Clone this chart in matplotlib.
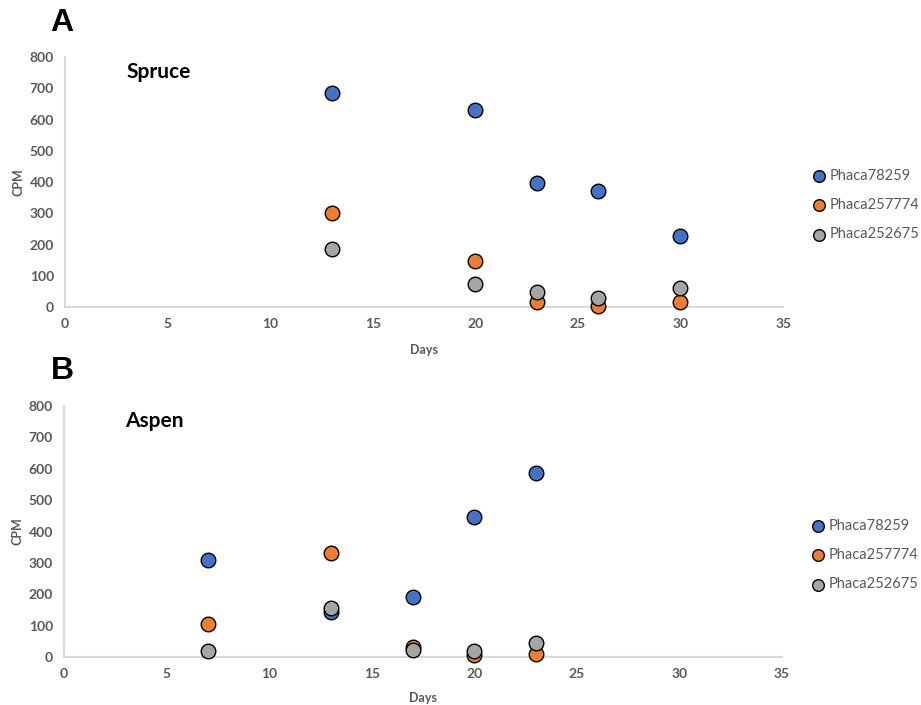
import matplotlib
matplotlib.use('Agg')
import matplotlib.pyplot as plt

# data
series_names = ['Phaca78259', 'Phaca257774', 'Phaca252675']
series_colors = ['#4472C4', '#ED7D31', '#A5A5A5']

spruce_days = [13, 20, 23, 26, 30]
spruce_78259 = [685, 630, 397, 371, 228]
spruce_257774 = [301, 148, 17, 3, 16]
spruce_252675 = [186, 74, 48, 29, 61]

aspen_days = [7, 13, 17, 20, 23]
aspen_78259 = [309, 143, 191, 446, 586]
aspen_257774 = [106, 331, 32, 6, 10]
aspen_252675 = [20, 156, 22, 20, 45]

x_ticks = [0, 5, 10, 15, 20, 25, 30, 35]
y_ticks = [0, 100, 200, 300, 400, 500, 600, 700, 800]

plt.rcParams['font.family'] = ['Lato', 'DejaVu Sans']
tick_color = '#595959'

fig = plt.figure(figsize=(9.21, 7.05), dpi=100)


def draw_panel(rect, days, values, title, letter, letter_y, leg_y, days_y):
    ax = fig.add_axes(rect)
    for vals, name, col in zip(values, series_names, series_colors):
        ax.scatter(days, vals, s=110, color=col, edgecolor='black',
                   linewidth=1.0, label=name, zorder=3, clip_on=False)
    ax.set_xlim(0, 35)
    ax.set_ylim(0, 800)
    ax.set_xticks(x_ticks)
    ax.set_yticks(y_ticks)
    ax.tick_params(length=0, labelsize=10, labelcolor=tick_color, pad=8)
    for lab in ax.get_xticklabels() + ax.get_yticklabels():
        lab.set_fontweight('bold')
    for side in ['top', 'right']:
        ax.spines[side].set_visible(False)
    for side in ['left', 'bottom']:
        ax.spines[side].set_color('#d9d9d9')
        ax.spines[side].set_linewidth(1.5)
    ax.set_xlabel('Days', fontsize=9, fontweight='bold', color=tick_color,
                  va='center')
    ax.xaxis.set_label_coords(0.50, days_y)
    ax.set_ylabel('CPM', fontsize=9, fontweight='bold', color=tick_color)
    ax.yaxis.set_label_coords(-0.056, 0.5)
    ax.text(0.085, 0.94, title, transform=ax.transAxes, fontsize=15,
            fontweight='bold', color='black', va='center')
    fig.text(0.055, letter_y, letter, fontsize=23, fontweight='bold',
             family=['Liberation Sans', 'DejaVu Sans'], va='center')
    leg = ax.legend(loc='center left', bbox_to_anchor=(1.03, leg_y),
                    frameon=False, fontsize=10.5, handletextpad=0.2,
                    labelspacing=1.05, borderpad=0, handlelength=1.0,
                    markerscale=0.8)
    for t in leg.get_texts():
        t.set_color(tick_color)
    return ax


draw_panel([0.0706, 0.5645, 0.7796, 0.3546], spruce_days,
           [spruce_78259, spruce_257774, spruce_252675], 'Spruce', 'A', 0.968,
           0.408, -0.172)
draw_panel([0.0695, 0.068, 0.7796, 0.356], aspen_days,
           [aspen_78259, aspen_257774, aspen_252675], 'Aspen', 'B', 0.474,
           0.406, -0.163)

fig.savefig('out.png', dpi=100)
